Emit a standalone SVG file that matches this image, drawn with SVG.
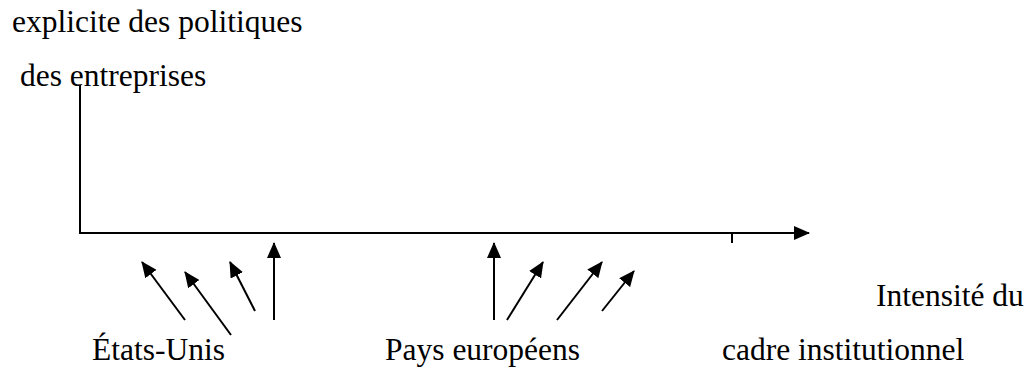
<svg xmlns="http://www.w3.org/2000/svg" width="1032" height="372" viewBox="0 0 1032 372">
<style>
.t{font-family:"Liberation Serif","Times New Roman",serif;font-size:31.5px;fill:#000}
.ln{stroke:#000;stroke-width:2;fill:none}
.ar{stroke:#000;stroke-width:2;fill:none;marker-end:url(#ah)}
</style>
<defs>
<marker id="ah" viewBox="0 0 16 14" refX="15" refY="7" markerWidth="16" markerHeight="14" markerUnits="userSpaceOnUse" orient="auto">
<path d="M0,0 L16,7 L0,14 z" fill="#000"/>
</marker>
</defs>
<rect width="1032" height="372" fill="#fff"/>
<g id="axes">
<line class="ln" x1="80" y1="85" x2="80" y2="233"/>
<line class="ar" x1="79" y1="233" x2="809" y2="233"/>
<line class="ln" x1="732" y1="233" x2="732" y2="243"/>
</g>
<g id="connectors">
<line class="ar" x1="185" y1="320" x2="142" y2="262"/>
<line class="ar" x1="231" y1="335" x2="185" y2="272"/>
<line class="ar" x1="255" y1="311" x2="230" y2="262"/>
<line class="ar" x1="274" y1="320" x2="274" y2="243"/>
<line class="ar" x1="494" y1="320" x2="494" y2="243"/>
<line class="ar" x1="507" y1="320" x2="543" y2="262"/>
<line class="ar" x1="557" y1="320" x2="602" y2="262"/>
<line class="ar" x1="602" y1="311" x2="634" y2="271"/>
</g>
<g id="label-y"><text class="t" x="12" y="32">explicite des politiques</text><text class="t" x="20" y="86">des entreprises</text></g>
<g id="label-x"><text class="t" x="876" y="306">Intensité du</text><text class="t" x="722" y="360">cadre institutionnel</text></g>
<g id="node-usa"><text class="t" x="92" y="360">États-Unis</text></g>
<g id="node-europe"><text class="t" x="385" y="360">Pays européens</text></g>
</svg>
